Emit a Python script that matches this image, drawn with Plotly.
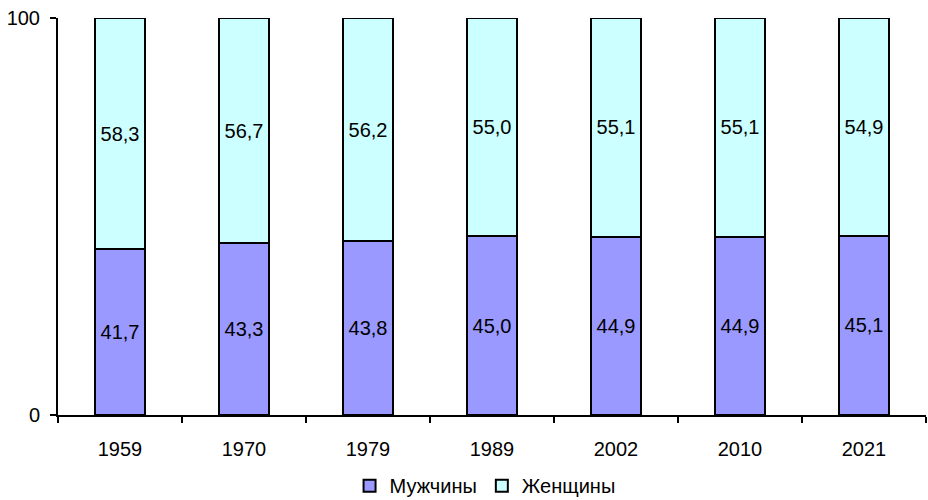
import plotly.graph_objects as go

years = ["1959", "1970", "1979", "1989", "2002", "2010", "2021"]
men = [41.7, 43.3, 43.8, 45.0, 44.9, 44.9, 45.1]
women = [58.3, 56.7, 56.2, 55.0, 55.1, 55.1, 54.9]

font = dict(family="Liberation Sans, Arial, sans-serif", size=20, color="black")

fig = go.Figure()
fig.add_trace(go.Bar(
    x=years, y=men, name="Мужчины",
    marker=dict(color="#9999FF", line=dict(color="black", width=2)),
    texttemplate="%{y:.1f}", textposition="inside", insidetextanchor="middle",
    textfont=font, width=0.4,
))
fig.add_trace(go.Bar(
    x=years, y=women, name="Женщины",
    marker=dict(color="#CCFFFF", line=dict(color="black", width=2)),
    texttemplate="%{y:.1f}", textposition="inside", insidetextanchor="middle",
    textfont=font, width=0.4,
))

fig.update_layout(
    barmode="stack",
    separators=", ",
    width=928, height=500,
    margin=dict(l=58, r=2, t=18, b=85, autoexpand=False),
    plot_bgcolor="white", paper_bgcolor="white",
    font=font,
    showlegend=True,
    legend=dict(orientation="h", x=0.492, xanchor="center", xref="paper",
                y=-0.178, yanchor="middle", yref="paper",
                traceorder="normal", font=font, itemwidth=30, tracegroupgap=0,
                bgcolor="rgba(0,0,0,0)"),
    xaxis=dict(showline=True, linecolor="black", linewidth=2,
               ticks="outside", tickson="boundaries", ticklen=6, tickwidth=2, tickcolor="black",
               showgrid=False, tickfont=font, ticklabelstandoff=15, automargin=False),
    yaxis=dict(range=[0, 100], tickvals=[0, 100], showline=True, linecolor="black", linewidth=2,
               ticks="outside", ticklen=6, tickwidth=2, tickcolor="black",
               showgrid=False, zeroline=False, tickfont=font, ticklabelstandoff=6,
               automargin=False),
)

fig.write_html("out.html", config={"displayModeBar": False},
               post_script="document.body.style.margin='0';")
